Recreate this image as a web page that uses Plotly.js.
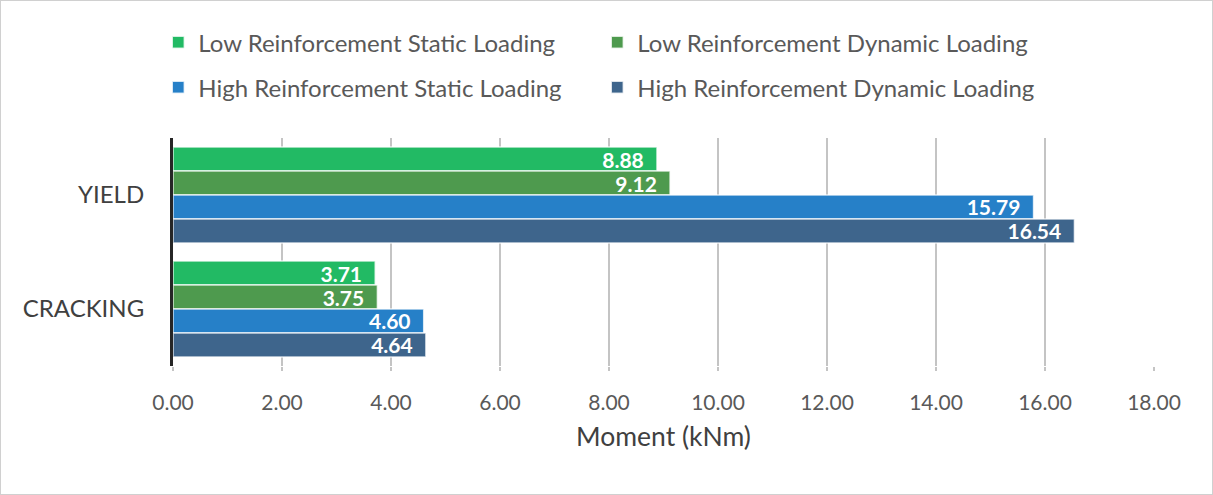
<!DOCTYPE html>
<html>
<head>
<meta charset="utf-8">
<script src="https://cdn.plot.ly/plotly-3.0.1.min.js"></script>
<style>
html,body{margin:0;padding:0;background:#fff;}
#wrap{width:1213px;height:495px;box-sizing:border-box;border:1px solid #d0d0d0;overflow:hidden;}
#chart{width:1211px;height:493px;}
</style>
</head>
<body>
<div id="wrap"><div id="chart"></div></div>
<script>
const categories = ['YIELD', 'CRACKING'];
const seriesNames = [
  'Low Reinforcement Static Loading',
  'Low Reinforcement Dynamic Loading',
  'High Reinforcement Static Loading',
  'High Reinforcement Dynamic Loading'
];
const lowStatic = [8.88, 3.71];
const lowDynamic = [9.12, 3.75];
const highStatic = [15.79, 4.60];
const highDynamic = [16.54, 4.64];
const xTickVals = [0, 2, 4, 6, 8, 10, 12, 14, 16, 18];

const colors = ['#22ba64', '#4e9a4e', '#2680c8', '#3e658c'];
const values = [lowStatic, lowDynamic, highStatic, highDynamic];
const legends = ['legend', 'legend', 'legend2', 'legend2'];

const FONT = 'Lato, "Open Sans", sans-serif';

const traces = values.map((v, i) => ({
  type: 'bar',
  orientation: 'h',
  name: seriesNames[i],
  y: categories,
  x: v,
  legend: legends[i],
  marker: {color: colors[i], line: {color: 'rgba(255,255,255,0.75)', width: 1.5}},
  text: v.map(d => d.toFixed(2) + '\u00a0\u00a0'),
  textposition: 'inside',
  insidetextanchor: 'end',
  constraintext: 'none',
  textfont: {family: FONT, size: 21, color: '#ffffff', weight: 'bold'},
  hoverinfo: 'x+name'
}));

const legendFont = {family: FONT, size: 24, color: '#595959'};

const layout = {
  width: 1211,
  height: 493,
  margin: {l: 172, r: 58, t: 137, b: 128},
  paper_bgcolor: '#ffffff',
  plot_bgcolor: '#ffffff',
  barmode: 'group',
  bargap: 0.16,
  bargroupgap: 0,
  font: {family: FONT, color: '#595959'},
  xaxis: {
    range: [0, 18],
    tickvals: xTickVals,
    ticktext: xTickVals.map(d => d.toFixed(2)),
    showgrid: true,
    gridcolor: '#c4c4c4',
    gridwidth: 2,
    zeroline: false,
    showline: false,
    ticks: 'outside',
    ticklen: 4,
    tickwidth: 2,
    tickcolor: '#c4c4c4',
    ticklabelstandoff: 14,
    tickfont: {family: FONT, size: 21, color: '#595959'},
    title: {text: 'Moment (kNm)', font: {family: FONT, size: 26.5, color: '#404040'}, standoff: 14},
    fixedrange: true
  },
  yaxis: {
    type: 'category',
    categoryorder: 'array',
    categoryarray: categories,
    autorange: 'reversed',
    showgrid: false,
    zeroline: false,
    showline: true,
    linecolor: '#262626',
    linewidth: 3,
    ticks: '',
    ticklabelstandoff: 21,
    tickfont: {family: FONT, size: 24, color: '#404040'},
    fixedrange: true
  },
  legend: {
    orientation: 'h',
    x: -0.015, xanchor: 'left',
    y: 1.517, yanchor: 'top',
    entrywidth: 394,
    font: legendFont,
    itemclick: false, itemdoubleclick: false
  },
  legend2: {
    orientation: 'h',
    x: -0.015, xanchor: 'left',
    y: 1.32, yanchor: 'top',
    entrywidth: 394,
    font: legendFont,
    itemclick: false, itemdoubleclick: false
  },
  showlegend: true
};

Plotly.newPlot('chart', traces, layout, {displayModeBar: false, staticPlot: true});
</script>
</body>
</html>
